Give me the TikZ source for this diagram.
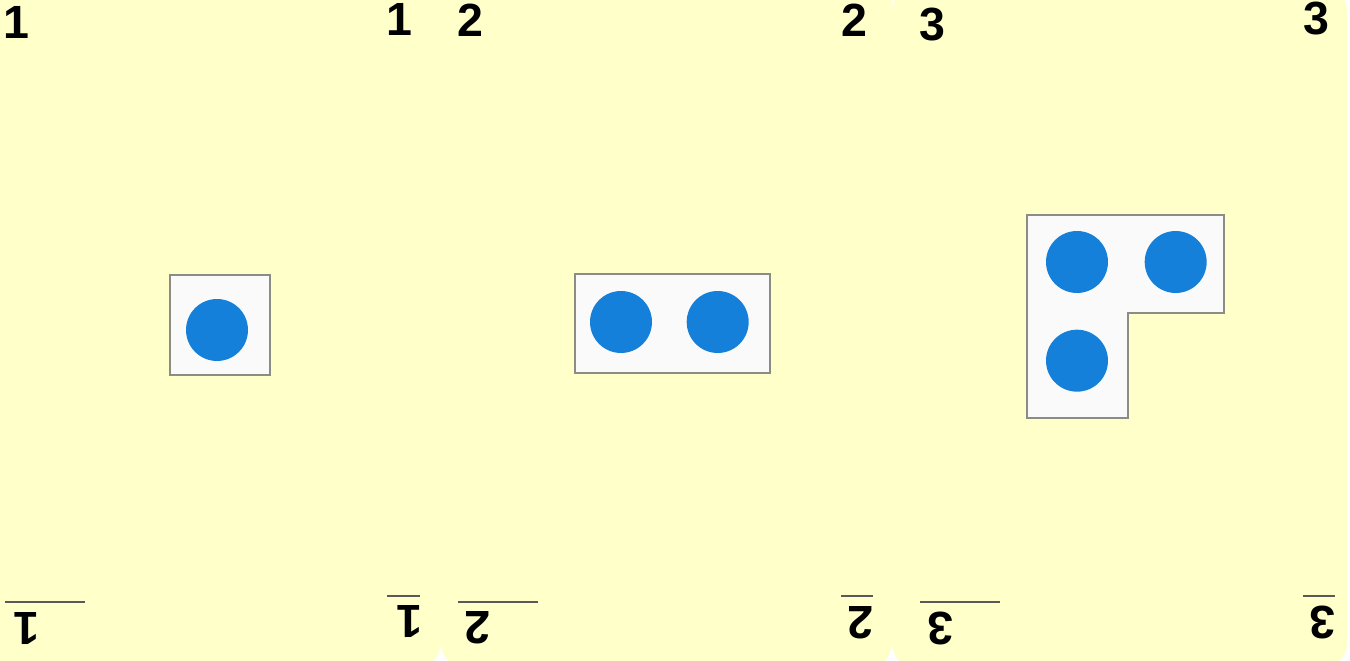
\documentclass[tikz,border=0pt]{standalone}
\usepackage{fontspec}
\setmainfont{Liberation Sans}
\usetikzlibrary{positioning}
\definecolor{CardYellow}{HTML}{FFFFC9}
\definecolor{DotBlue}{HTML}{1580DA}
\definecolor{TileEdge}{HTML}{8C8C84}
\tikzset{
  card/.style={fill=CardYellow, rounded corners=0.5cm},
  tile/.style={fill=black!2, draw=TileEdge, line width=1pt},
  dot/.style={circle, fill=DotBlue, minimum size=1.24cm, inner sep=0pt},
  num/.style={font=\fontsize{26.5}{30}\selectfont\bfseries, inner sep=0pt},
  numflip/.style={num, rotate=180},
  rule/.style={draw=black!65, line width=0.6pt},
}
\begin{document}
\begin{tikzpicture}[x=0.02cm, y=-0.02cm]
  \useasboundingbox (0,0) rectangle (1350,661);
  \clip (0,0) rectangle (1350,661);
  \fill[white] (0,0) rectangle (1350,661);

  % the three cards
  \fill[card] (-40,-40) rectangle (441,668);
  \fill[card] (441,-40) rectangle (892,668);
  \fill[card] (892,-14) rectangle (1347,668);

  % card 1
  \draw[tile] (170,275) rectangle (270,375);
  \node[dot] (dot11) at (217,330) {};
  \node[num] (top1l) at (16,22) {1};
  \node[num] (top1r) at (399,19) {1};
  \node[numflip] (bot1l) at (27,629) {1};
  \node[numflip] (bot1r) at (410,622) {1};
  \draw[rule] (5,602) -- (85,602);
  \draw[rule] (387,596) -- (420,596);

  % card 2
  \draw[tile] (575,274) rectangle (770,373);
  \node[dot] (dot21) at (621,322) {};
  \node[dot, right=0.68cm of dot21] (dot22) {};
  \node[num] (top2l) at (470,20) {2};
  \node[num] (top2r) at (854,20) {2};
  \node[numflip] (bot2l) at (478,628) {2};
  \node[numflip] (bot2r) at (861,623) {2};
  \draw[rule] (458,602) -- (538,602);
  \draw[rule] (841,596) -- (873,596);

  % card 3
  \draw[tile] (1027,215) -- (1224,215) -- (1224,313) -- (1128,313)
    -- (1128,418) -- (1027,418) -- cycle;
  \node[dot] (dot31) at (1077,262) {};
  \node[dot, right=0.72cm of dot31] (dot32) {};
  \node[dot, below=0.72cm of dot31] (dot33) {};
  \node[num] (top3l) at (932,25) {3};
  \node[num] (top3r) at (1316,19) {3};
  \node[numflip] (bot3l) at (941,628) {3};
  \node[numflip] (bot3r) at (1323,622) {3};
  \draw[rule] (920,602) -- (1000,602);
  \draw[rule] (1303,596) -- (1335,596);
\end{tikzpicture}
\end{document}
